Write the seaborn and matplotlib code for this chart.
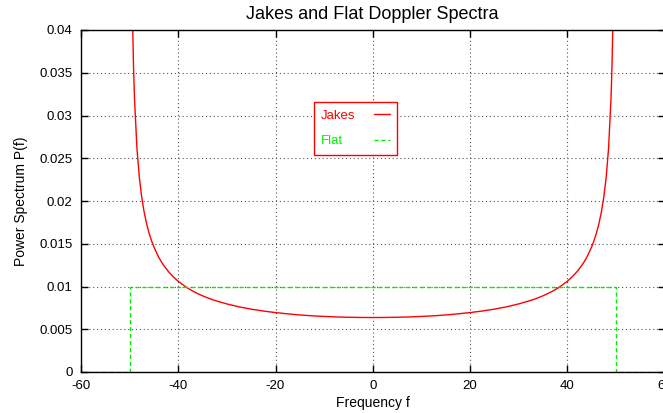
import numpy as np
import pandas as pd
import seaborn as sns
import matplotlib.pyplot as plt

# Jakes spectrum, values (symmetric about f=0)
jakes_f_half = [-49.6, -49.4, -49.2, -49.0, -48.5, -48.0, -47.5, -47.0, -46.5, -46.0,
                -45.5, -45.0, -44.0, -43.5, -43.0, -42.0, -41.0, -40.0, -39.0, -38.0,
                -37.0, -36.0, -35.0, -34.0, -33.0, -32.0, -30.0, -27.5, -25.0, -22.5,
                -20.0, -17.5, -15.0, -12.5, -10.0, -7.5, -5.0, -2.5]
jakes_p_half = [0.05040, 0.04120, 0.03570, 0.03200, 0.02619, 0.02274, 0.02040, 0.01866,
                0.01732, 0.01624, 0.01536, 0.01461, 0.01340, 0.01291, 0.01248, 0.01173,
                0.01112, 0.01061, 0.01018, 0.00979, 0.00946, 0.00917, 0.00891, 0.00868,
                0.00847, 0.00829, 0.00796, 0.00762, 0.00735, 0.00713, 0.00695, 0.00680,
                0.00667, 0.00657, 0.00650, 0.00644, 0.00640, 0.00638]
jakes_p_center = 0.00637

# Flat spectrum outline
flat_f = [-60, -50, -50, 50, 50, 60]
flat_p = [0.0, 0.0, 0.01, 0.01, 0.0, 0.0]

x_ticks = [-60, -40, -20, 0, 20, 40, 60]
y_ticks = [0, 0.005, 0.01, 0.015, 0.02, 0.025, 0.03, 0.035, 0.04]
y_tick_labels = ["0", "0.005", "0.01", "0.015", "0.02", "0.025", "0.03", "0.035", "0.04"]

jakes = pd.DataFrame({
    "f": jakes_f_half + [0.0] + [-v for v in jakes_f_half[::-1]],
    "p": jakes_p_half + [jakes_p_center] + jakes_p_half[::-1],
})
flat = pd.DataFrame({"f": flat_f, "p": flat_p})

sns.set_style("ticks")
plt.rcParams["font.family"] = ["Liberation Sans", "DejaVu Sans"]
plt.rcParams["axes.unicode_minus"] = False
plt.rcParams["text.color"] = "black"
plt.rcParams["axes.labelcolor"] = "black"

fig = plt.figure(figsize=(6.63, 4.13), dpi=100)
ax = fig.add_axes([81 / 663, 1 - 372 / 413, 583.5 / 663, 342 / 413])

sns.lineplot(data=jakes, x="f", y="p", ax=ax, color="#ff0000", lw=1.0,
             estimator=None, sort=False, label="Jakes")
sns.lineplot(data=flat, x="f", y="p", ax=ax, color="#00ee00", lw=1.0,
             estimator=None, sort=False, label="Flat", linestyle=(0, (3, 2)))

ax.set_xlim(-60, 60)
ax.set_ylim(0, 0.04)
ax.set_xticks(x_ticks)
ax.set_yticks(y_ticks)
ax.set_yticklabels(y_tick_labels)
ax.tick_params(direction="in", length=5, width=1, labelsize=9.5, top=True, right=True,
               colors="black", pad=6)
ax.grid(True, linestyle=(0, (1, 2.5)), color="#555555", lw=0.8)
for s in ax.spines.values():
    s.set_color("black")
    s.set_linewidth(1.0)

ax.set_title("Jakes and Flat Doppler Spectra", fontsize=13, pad=8, color="black")
ax.set_xlabel("Frequency f", fontsize=10, labelpad=3)
ax.set_ylabel("Power Spectrum P(f)", fontsize=10, labelpad=8)

leg = ax.legend(loc="center", bbox_to_anchor=(0.4704, 0.712), markerfirst=False,
                labelcolor="linecolor", fancybox=False, framealpha=1, edgecolor="red",
                fontsize=9.5, handlelength=1.2, handletextpad=1.4, labelspacing=1.0,
                borderpad=0.55, borderaxespad=0)
leg.get_frame().set_linewidth(1.0)

# left-align the labels (gnuplot style) while keeping the line samples aligned
fig.canvas.draw()
renderer = fig.canvas.get_renderer()
widths = [t.get_window_extent(renderer).width for t in leg.get_texts()]
wmax = max(widths)
for col in leg._legend_handle_box.get_children():
    col.align = "left"
    for row, w in zip(col.get_children(), widths):
        row.sep = row.sep + (wmax - w) * 72 / fig.dpi

fig.savefig("out.png", dpi=100)
